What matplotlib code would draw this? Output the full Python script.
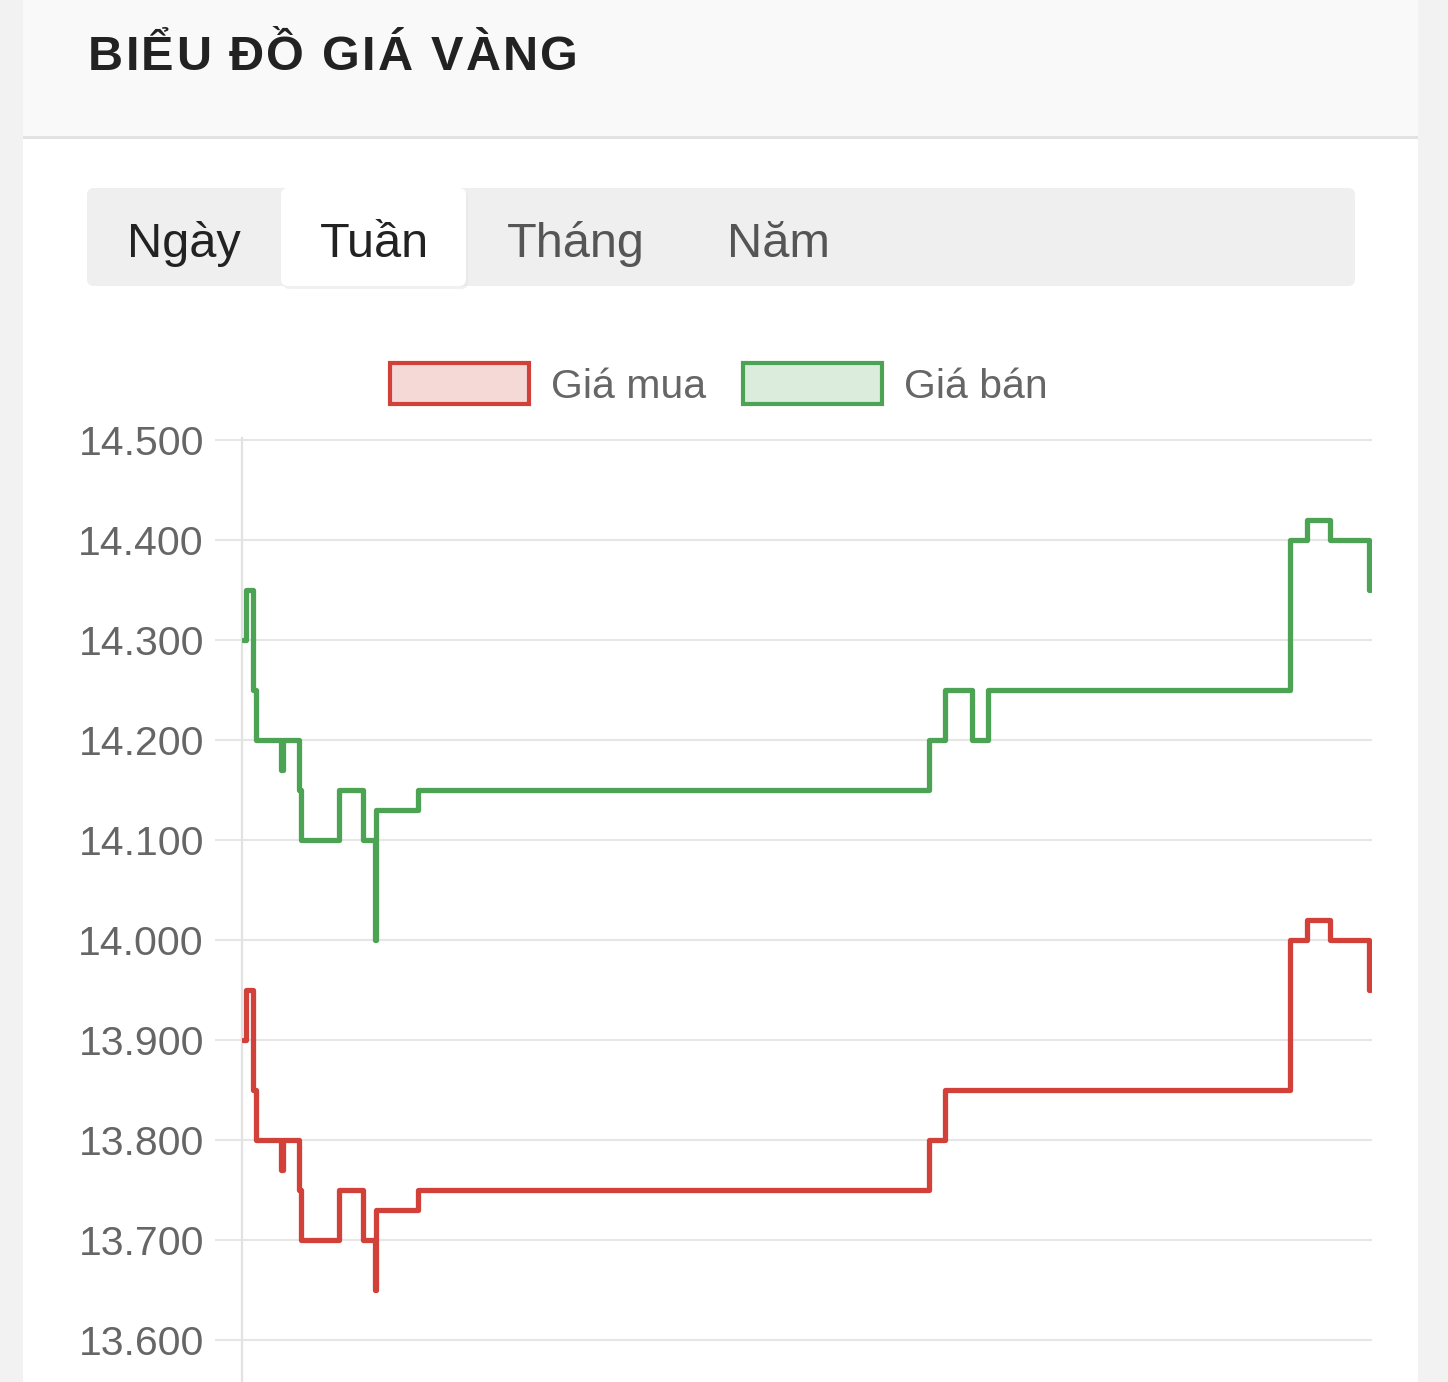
import matplotlib
matplotlib.use("Agg")
import matplotlib.pyplot as plt
from matplotlib.patches import FancyBboxPatch, Rectangle

# ---------------- data ----------------
title = "BIỂU ĐỒ GIÁ VÀNG"
tabs = ["Ngày", "Tuần", "Tháng", "Năm"]
series_names = ["Giá mua", "Giá bán"]
# time in hours since start of the week
hours = [0, 0.4, 1.5, 1.9, 5.6, 6.0, 8.3, 8.7, 14.3, 17.9, 19.7, 19.9, 26.1,
         102.2, 104.7, 108.7, 111.1, 156.1, 158.6, 162.0, 167.8, 168.0]
gia_ban = [14.30, 14.35, 14.25, 14.20, 14.17, 14.20, 14.15, 14.10, 14.15, 14.10, 14.00, 14.13, 14.15,
           14.20, 14.25, 14.20, 14.25, 14.40, 14.42, 14.40, 14.35, 14.35]
gia_mua = [13.90, 13.95, 13.85, 13.80, 13.77, 13.80, 13.75, 13.70, 13.75, 13.70, 13.65, 13.73, 13.75,
           13.80, 13.85, 13.85, 13.85, 14.00, 14.02, 14.00, 13.95, 13.95]
y_ticks = [13.6, 13.7, 13.8, 13.9, 14.0, 14.1, 14.2, 14.3, 14.4, 14.5]
y_tick_labels = ["13.600", "13.700", "13.800", "13.900", "14.000",
                 "14.100", "14.200", "14.300", "14.400", "14.500"]

RED = "#D1413A"
GREEN = "#4CA354"
W, H = 1448, 1382

fig = plt.figure(figsize=(W / 100, H / 100), dpi=100)
fig.patch.set_facecolor("white")

# background axes in pixel coordinates
bg = fig.add_axes([0, 0, 1, 1])
bg.set_xlim(0, W)
bg.set_ylim(H, 0)
bg.axis("off")

# side strips
bg.add_patch(Rectangle((0, 0), 23, H, color="#f2f2f2", lw=0))
bg.add_patch(Rectangle((1418, 0), 30, H, color="#f2f2f2", lw=0))
# header band
bg.add_patch(Rectangle((23, 0), 1395, 136, color="#f9f9f9", lw=0))
bg.add_patch(Rectangle((23, 136), 1395, 3, color="#e2e2e2", lw=0))

# title with letter spacing
fig.canvas.draw()
renderer = fig.canvas.get_renderer()
tkw = dict(fontsize=35, fontweight="bold", family="Liberation Sans", color="#222222")
def text_width(s):
    t = bg.text(0, 0, s, **tkw)
    w = t.get_window_extent(renderer).width
    t.remove()
    return w
total = text_width(title)
spacing = (578 - 88 - total) / (len(title) - 1)
for i, ch in enumerate(title):
    x = 88 + text_width(title[:i]) + i * spacing if i > 0 else 88
    bg.text(x, 70, ch, ha="left", va="baseline", **tkw)

# tab bar
bg.add_patch(FancyBboxPatch((87, 188), 1268, 98, boxstyle="round,pad=0,rounding_size=7",
                            fc="#efefef", ec="none"))
bg.add_patch(FancyBboxPatch((283, 191), 185, 98, boxstyle="round,pad=0,rounding_size=7",
                            fc="#e6e6e6", ec="none", alpha=0.6))
bg.add_patch(FancyBboxPatch((281, 188), 185, 98, boxstyle="round,pad=0,rounding_size=7",
                            fc="white", ec="none"))
tab_x = [127, 320, 507, 727]
tab_c = ["#222222", "#222222", "#555555", "#555555"]
for name, x, c in zip(tabs, tab_x, tab_c):
    bg.text(x, 257, name, ha="left", va="baseline", fontsize=35,
            family="Liberation Sans", color=c)

# legend
leg_x = [388, 741]
leg_c = [RED, GREEN]
for name, x, c in zip(series_names, leg_x, leg_c):
    bg.add_patch(Rectangle((x + 1.5, 362.5), 139, 41, fc=c, alpha=0.2, lw=0))
    bg.add_patch(Rectangle((x + 1.5, 362.5), 139, 41, fc="none", ec=c, lw=3.0))
    bg.text(x + 163, 398, name, ha="left", va="baseline", fontsize=29.5,
            family="Liberation Sans", color="#666666")

# chart axes
ax = fig.add_axes([242 / W, 0, (1372 - 242) / W, (H - 438) / H])
ax.set_facecolor("none")
ax.step(hours, gia_mua, where="post", color=RED, lw=3.8, solid_joinstyle="round",
        solid_capstyle="round", zorder=3)
ax.step(hours, gia_ban, where="post", color=GREEN, lw=3.8, solid_joinstyle="round",
        solid_capstyle="round", zorder=3)
ax.set_xlim(-0.15, 168.3)
ax.set_ylim(14.5 - 942 * 0.001, 14.502)
ax.set_yticks(y_ticks)
ax.set_yticklabels(y_tick_labels)
ax.set_xticks([])
ax.grid(axis="y", color="#e6e6e6", lw=1.5)
ax.set_axisbelow(True)
for s in ["top", "right", "bottom"]:
    ax.spines[s].set_visible(False)
ax.spines["left"].set_color("#e2e2e2")
ax.spines["left"].set_linewidth(1.6)
ax.tick_params(axis="y", length=19.4, width=1.5, color="#e6e6e6", pad=8.0,
               labelsize=29.5, labelcolor="#666666")
for lab in ax.get_yticklabels():
    lab.set_family("Liberation Sans")

fig.savefig("out.png", dpi=100, facecolor="white")
